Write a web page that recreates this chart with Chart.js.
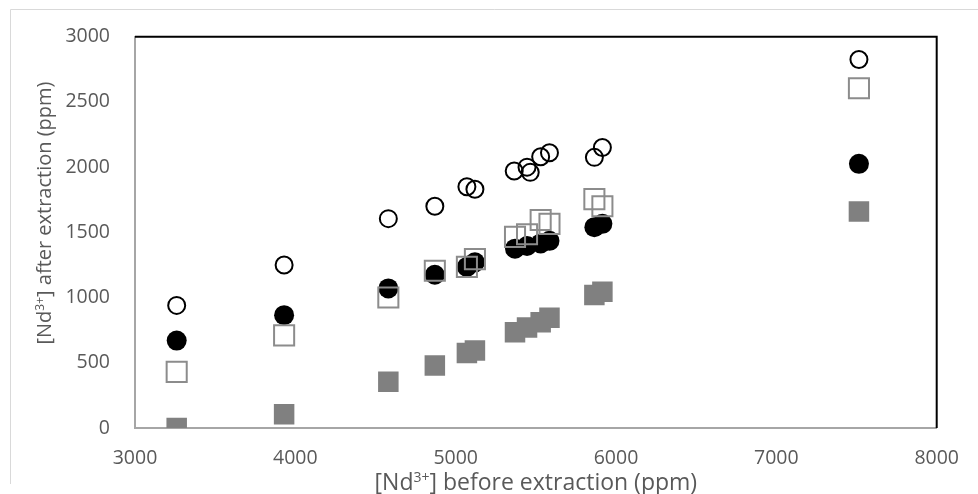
<!DOCTYPE html>
<html>
<head>
<meta charset="utf-8">
<script src="https://cdn.jsdelivr.net/npm/chart.js@4"></script>
<style>
    html, body { margin: 0; padding: 0; background: #ffffff; }
    #wrap { width: 978px; height: 494px; position: relative; }
</style>
</head>
<body>
<div id="wrap"><canvas id="ndChart"></canvas></div>
<script>
// [Nd3+] before extraction (ppm)
const xShared = [3260, 3930, 4580, 4870, 5070, 5120, 5370, 5445, 5530, 5585, 5865, 5915, 7515];
const xOpenCircle = [3260, 3930, 4580, 4870, 5070, 5120, 5365, 5445, 5465, 5530, 5585, 5865, 5915, 7515];

// [Nd3+] after extraction (ppm)
const openCircle = [940, 1250, 1605, 1700, 1850, 1830, 1970, 2000, 1960, 2080, 2110, 2075, 2150, 2825];
const filledCircle = [670, 865, 1070, 1175, 1235, 1270, 1375, 1395, 1415, 1435, 1540, 1565, 2025];
const openSquare = [430, 710, 1000, 1205, 1235, 1295, 1465, 1485, 1595, 1565, 1755, 1700, 2605];
const filledSquare = [0, 105, 355, 480, 575, 595, 735, 770, 810, 845, 1020, 1045, 1660];

// axis ticks
const xTicks = [3000, 4000, 5000, 6000, 7000, 8000];
const yTicks = [0, 500, 1000, 1500, 2000, 2500, 3000];

// axis titles: [before superscript, superscript, after]
const xTitle = ['[Nd', '3+', '] before extraction (ppm)'];
const yTitle = ['[Nd', '3+', '] after extraction (ppm)'];

const toPoints = (xs, ys) => ys.map((y, i) => ({ x: xs[i], y: y }));

const labelGrey = '#595959';
const fontFamily = '"Open Sans", sans-serif';

// title text with a real raised superscript
function drawTitle(ctx, parts, cx, cy, rotation, size) {
    const supSize = Math.round(size * 0.62);
    const mainFont = size + 'px ' + fontFamily;
    const supFont = supSize + 'px ' + fontFamily;
    ctx.save();
    ctx.translate(cx, cy);
    ctx.rotate(rotation);
    ctx.fillStyle = labelGrey;
    ctx.textBaseline = 'alphabetic';
    ctx.textAlign = 'left';
    ctx.font = mainFont;
    const w0 = ctx.measureText(parts[0]).width;
    const w2 = ctx.measureText(parts[2]).width;
    ctx.font = supFont;
    const w1 = ctx.measureText(parts[1]).width;
    let x = -(w0 + w1 + w2) / 2;
    const base = size * 0.36;
    ctx.font = mainFont;
    ctx.fillText(parts[0], x, base);
    x += w0;
    ctx.font = supFont;
    ctx.fillText(parts[1], x, base - size * 0.36);
    x += w1;
    ctx.font = mainFont;
    ctx.fillText(parts[2], x, base);
    ctx.restore();
}

// outer chart border, black top/right frame of the plot area, axis titles
const framePlugin = {
    id: 'frame',
    beforeDraw(chart) {
        const ctx = chart.ctx;
        ctx.save();
        ctx.strokeStyle = '#d9d9d9';
        ctx.lineWidth = 1;
        ctx.beginPath();
        ctx.moveTo(10.5, 484);
        ctx.lineTo(10.5, 9.5);
        ctx.lineTo(978, 9.5);
        ctx.stroke();
        ctx.restore();
    },
    afterDatasetsDraw(chart) {
        const { ctx, chartArea } = chart;
        ctx.save();
        ctx.strokeStyle = '#000000';
        ctx.lineWidth = 2;
        ctx.beginPath();
        ctx.moveTo(chartArea.left, chartArea.top);
        ctx.lineTo(chartArea.right, chartArea.top);
        ctx.lineTo(chartArea.right, chartArea.bottom);
        ctx.stroke();
        ctx.restore();
    },
    afterDraw(chart) {
        const ctx = chart.ctx;
        const area = chart.chartArea;
        drawTitle(ctx, xTitle, (area.left + area.right) / 2, 482, 0, 23);
        drawTitle(ctx, yTitle, 44, 213, -Math.PI / 2, 20);
    }
};

new Chart(document.getElementById('ndChart'), {
    type: 'scatter',
    data: {
        datasets: [
            {
                label: 'open circles',
                data: toPoints(xOpenCircle, openCircle),
                pointStyle: 'circle',
                pointRadius: 8.5,
                borderColor: '#000000',
                backgroundColor: 'rgba(0,0,0,0)',
                borderWidth: 2,
                order: 1
            },
            {
                label: 'open squares',
                data: toPoints(xShared, openSquare),
                pointStyle: 'rect',
                pointRadius: 14.2,
                borderColor: '#8c8c8c',
                backgroundColor: 'rgba(0,0,0,0)',
                borderWidth: 2,
                order: 2
            },
            {
                label: 'filled circles',
                data: toPoints(xShared, filledCircle),
                pointStyle: 'circle',
                pointRadius: 10,
                borderColor: '#000000',
                backgroundColor: '#000000',
                borderWidth: 0,
                order: 3
            },
            {
                label: 'filled squares',
                data: toPoints(xShared, filledSquare),
                pointStyle: 'rect',
                pointRadius: 14.5,
                borderColor: '#808080',
                backgroundColor: '#808080',
                borderWidth: 0,
                order: 4
            }
        ]
    },
    options: {
        responsive: true,
        maintainAspectRatio: false,
        animation: false,
        layout: {
            padding: { left: 0, right: 38, top: 33, bottom: 0 }
        },
        plugins: {
            legend: { display: false },
            tooltip: { enabled: false }
        },
        elements: {
            point: { hoverRadius: 10 }
        },
        scales: {
            x: {
                type: 'linear',
                min: xTicks[0],
                max: xTicks[xTicks.length - 1],
                afterFit: function (scale) { scale.height = 66; },
                afterBuildTicks: function (scale) {
                    scale.ticks = xTicks.map(v => ({ value: v }));
                },
                grid: { display: false, drawTicks: false, tickLength: 0 },
                border: { display: true, color: '#a6a6a6', width: 2 },
                ticks: {
                    color: labelGrey,
                    padding: 19,
                    maxRotation: 0,
                    callback: v => String(v),
                    font: { family: '"Open Sans"', size: 19.5 }
                },
                title: { display: false }
            },
            y: {
                type: 'linear',
                min: yTicks[0],
                max: yTicks[yTicks.length - 1],
                afterFit: function (scale) { scale.width = 135; },
                afterBuildTicks: function (scale) {
                    scale.ticks = yTicks.map(v => ({ value: v }));
                },
                grid: { display: false, drawTicks: false, tickLength: 0 },
                border: { display: true, color: '#a6a6a6', width: 2 },
                ticks: {
                    color: labelGrey,
                    padding: 25,
                    callback: v => String(v),
                    font: { family: '"Open Sans"', size: 19.5 }
                },
                title: { display: false }
            }
        }
    },
    plugins: [framePlugin]
});
</script>
</body>
</html>
